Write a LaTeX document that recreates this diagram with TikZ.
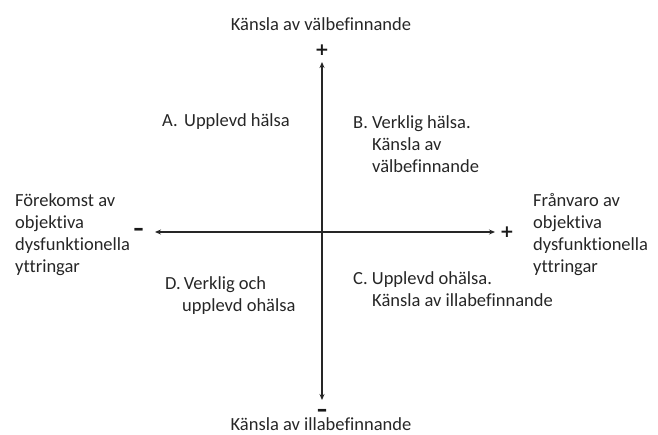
\documentclass[tikz,border=0pt]{standalone}
\usepackage{fontspec}
\setmainfont{Carlito}[Ligatures=NoCommon]
\newfontfamily\signfont{DejaVu Sans}
\usetikzlibrary{arrows.meta}
\begin{document}
\begin{tikzpicture}[x=1pt,y=-1pt,
  lbl/.style={font=\fontsize{18.5}{22}\selectfont, text=black!85, inner sep=0pt, align=left},
  axisline/.style={line width=1.2pt, draw=black!85},
  sign/.style={font=\signfont\fontsize{17}{20}\selectfont\bfseries, text=black!90, inner sep=0pt},
  minus/.style={font=\signfont\fontsize{21}{22}\selectfont\bfseries, text=black!90, inner sep=0pt, text height=8pt, text depth=-4.5pt}]
\useasboundingbox (0,0) rectangle (658,434);
\coordinate (T) at (322,62);
\coordinate (B) at (322,400);
\coordinate (L) at (155,232);
\coordinate (R) at (495,232);
\draw[axisline, {Stealth[length=6pt,width=5pt]}-{Stealth[length=6pt,width=5pt]}] (T) -- (B);
\draw[axisline, {Stealth[length=6pt,width=5pt]}-{Stealth[length=6pt,width=5pt]}] (L) -- (R);
\node[sign] (ptop) at (322,50) {+};
\node[sign] (pright) at (507,232) {+};
\node[minus] (mleft) at (138.5,231.5) {–};
\node[minus] (mbot) at (322,412.5) {–};
\node[lbl] (top) at (321,24) {Känsla av välbefinnande};
\node[lbl, anchor=base] (bot) at (321,430) {Känsla av illabefinnande};
\node[lbl, anchor=west] (left) at (15,235) {Förekomst av\\objektiva\\dysfunktionella\\yttringar};
\node[lbl, anchor=west] (right) at (533,235) {Frånvaro av\\objektiva\\dysfunktionella\\yttringar};
\node[lbl, anchor=west] (A) at (162,122) {A.\hspace{0.35em}Upplevd hälsa};
\node[lbl, anchor=west] (Bq) at (353,144) {B. Verklig hälsa.\\\hspace*{19pt}Känsla av\\\hspace*{19pt}välbefinnande};
\node[lbl, anchor=west] (C) at (353,289) {C. Upplevd ohälsa.\\\hspace*{19pt}Känsla av illabefinnande};
\node[lbl, anchor=west] (D) at (165,296) {D.\,Verklig och\\\hspace*{17pt}upplevd ohälsa};
\end{tikzpicture}
\end{document}
